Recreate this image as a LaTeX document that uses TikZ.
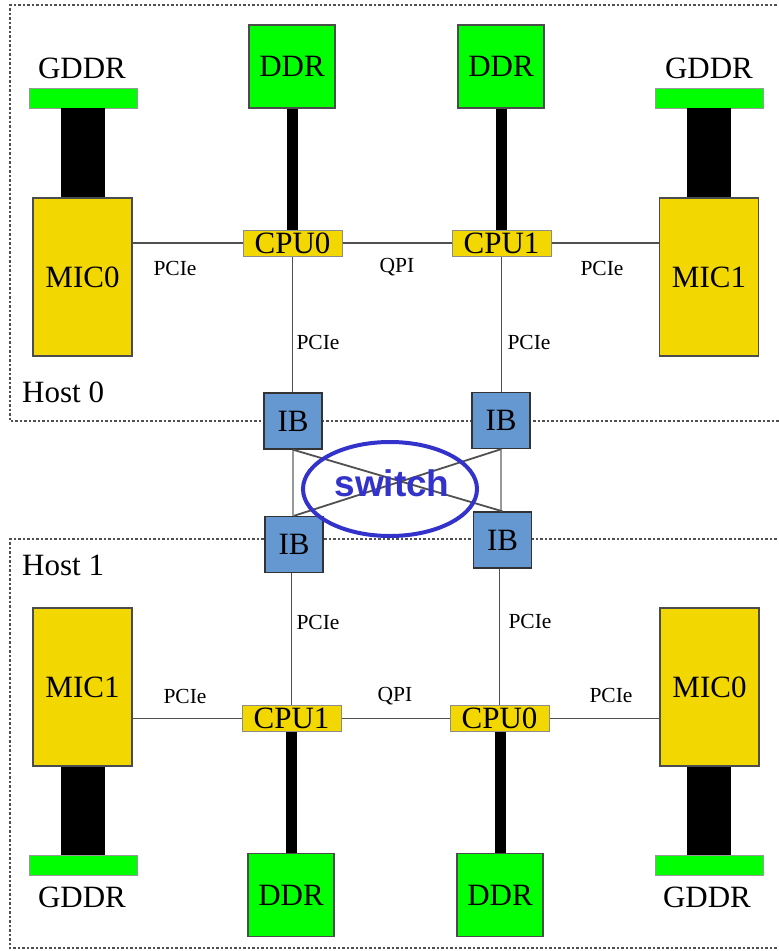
\documentclass[tikz,border=0pt]{standalone}
\usepackage{fontspec}
\setmainfont{Liberation Serif}
\newfontfamily\swfont{Liberation Sans}
\usetikzlibrary{shapes.geometric}
\definecolor{micyellow}{RGB}{243,215,0}
\definecolor{memgreen}{RGB}{0,255,0}
\definecolor{ibblue}{RGB}{101,152,208}
\definecolor{swblue}{RGB}{51,51,204}
\definecolor{edge}{RGB}{80,80,80}
\tikzset{
  big/.style={font=\fontsize{31}{34}\selectfont},
  small/.style={font=\fontsize{21.5}{24}\selectfont, inner sep=0pt},
  micbox/.style={draw=black!70, line width=1.2pt, fill=micyellow, minimum width=99pt, minimum height=158pt, inner sep=0pt, big},
  cpubox/.style={draw=black!45, line width=1pt, fill=micyellow, minimum width=99pt, minimum height=26pt, inner sep=0pt, big},
  ddrbox/.style={draw=black!70, line width=1.2pt, fill=memgreen, minimum width=86pt, minimum height=83pt, inner sep=0pt, big},
  gbar/.style={draw=black!40, line width=0.8pt, fill=memgreen, minimum width=108pt, minimum height=20pt, inner sep=0pt},
  ibbox/.style={draw=black!80, line width=1.4pt, fill=ibblue, minimum width=58pt, minimum height=56pt, inner sep=0pt, big},
  lbl/.style={big, inner sep=0pt},
  link/.style={draw=edge, line width=1.8pt},
  lightlink/.style={draw=black!40, line width=1.6pt},
  ddrlink/.style={draw=black, line width=11pt},
  gddrlink/.style={draw=black, line width=44pt},
  hostbox/.style={draw=edge, line width=1.6pt, dash pattern=on 2.5pt off 2pt},
}
\begin{document}
\begin{tikzpicture}[x=1pt,y=-1pt]
\path[use as bounding box] (0,0) rectangle (779,951);
\clip (0,0) rectangle (779,951);
% host boxes
\draw[hostbox] (790,5) -- (10,5) -- (10,421) -- (790,421);
\draw[hostbox] (790,539) -- (10,539) -- (10,948) -- (790,948);
\node[lbl, anchor=west] (h0) at (22,392) {Host 0};
\node[lbl, anchor=west] (h1) at (22,565) {Host 1};

% ---- Host 0 ----
\node[lbl] (gtl) at (82,68) {GDDR};
\node[gbar] (gbtl) at (83,98) {};
\node[micbox] (mtl) at (82.5,277) {MIC0};
\node[ddrbox] (dtl) at (292,66.5) {DDR};
\node[cpubox] (ctl) at (292.5,243) {CPU0};
\node[ddrbox] (dtr) at (501,66.5) {DDR};
\node[cpubox] (ctr) at (501.5,243) {CPU1};
\node[lbl] (gtr) at (709,68) {GDDR};
\node[gbar] (gbtr) at (709,98) {};
\node[micbox] (mtr) at (709,277) {MIC1};

% ---- Host 1 ----
\node[micbox] (mbl) at (82.5,687) {MIC1};
\node[gbar] (gbbl) at (83,865.5) {};
\node[lbl] (gbl) at (82,897) {GDDR};
\node[cpubox] (cbl) at (291.5,718.5) {CPU1};
\node[ddrbox] (dbl) at (291,895) {DDR};
\node[cpubox] (cbr) at (499.5,718.5) {CPU0};
\node[ddrbox] (dbr) at (500,895) {DDR};
\node[micbox] (mbr) at (709.5,687) {MIC0};
\node[gbar] (gbbr) at (709,865.5) {};
\node[lbl] (gbr) at (707,897) {GDDR};

% ---- IB ----
\node[ibbox] (itl) at (293,421) {IB};
\node[ibbox] (itr) at (501,420.5) {IB};
\node[ibbox] (ibl) at (294,544.5) {IB};
\node[ibbox] (ibr) at (502.5,540) {IB};

% memory links
\draw[gddrlink] (gbtl.south) -- (gbtl.south |- mtl.north);
\draw[gddrlink] (gbtr.south) -- (gbtr.south |- mtr.north);
\draw[gddrlink] (gbbl.north) -- (gbbl.north |- mbl.south);
\draw[gddrlink] (gbbr.north) -- (gbbr.north |- mbr.south);
\draw[ddrlink] (dtl.south) -- (dtl.south |- ctl.north);
\draw[ddrlink] (dtr.south) -- (dtr.south |- ctr.north);
\draw[ddrlink] (dbl.north) -- (dbl.north |- cbl.south);
\draw[ddrlink] (dbr.north) -- (dbr.north |- cbr.south);

% PCIe / QPI links
\draw[link] (ctl.west) -- (ctl.west -| mtl.east);
\draw[link] (ctl.east) -- (ctr.west);
\draw[link] (ctr.east) -- (ctr.east -| mtr.west);
\draw[link] (ctl.south) -- (ctl.south |- itl.north);
\draw[link] (ctr.south) -- (ctr.south |- itr.north);
\draw[link] (cbl.west) -- (cbl.west -| mbl.east);
\draw[link] (cbl.east) -- (cbr.west);
\draw[link] (cbr.east) -- (cbr.east -| mbr.west);
\draw[link] (cbl.north) -- (cbl.north |- ibl.south);
\draw[link] (cbr.north) -- (cbr.north |- ibr.south);

% switch links
\draw[lightlink] (itl.south) -- (itl.south |- ibl.north);
\draw[lightlink] (itr.south) -- (itr.south |- ibr.north);
\draw[link] (itl.south) -- (ibr.north);
\draw[link] (itr.south) -- (ibl.north);

% labels
\node[small] (l1) at (175,268) {PCIe};
\node[small] (l2) at (397,267) {QPI};
\node[small] (l3) at (602,268) {PCIe};
\node[small] (l4) at (318,342) {PCIe};
\node[small] (l5) at (529,342) {PCIe};
\node[small] (l6) at (318,622) {PCIe};
\node[small] (l7) at (530,621) {PCIe};
\node[small] (l8) at (185,696) {PCIe};
\node[small] (l9) at (395,696) {QPI};
\node[small] (l10) at (611,695) {PCIe};

% switch
\node[ellipse, draw=swblue, line width=4pt, minimum width=174pt, minimum height=94pt] (sw) at (390,489) {};
\node[font=\swfont\bfseries\fontsize{37}{40}\selectfont, text=swblue, inner sep=0pt] (swt) at (392,483) {switch};
\end{tikzpicture}
\end{document}
